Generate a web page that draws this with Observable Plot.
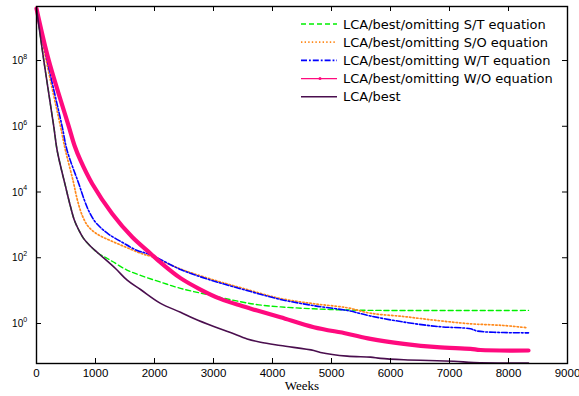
<!DOCTYPE html>
<html>
<head>
<meta charset="utf-8">
<script src="https://cdn.jsdelivr.net/npm/d3@7"></script>
<script src="https://cdn.jsdelivr.net/npm/@observablehq/plot@0.6"></script>
<style>
  body { margin: 0; background: #fff; }
  #wrap { position: relative; width: 579px; height: 396px; }
  #wrap > svg { position: absolute; left: 0; top: 0; }
</style>
</head>
<body>
<div id="wrap"></div>
<script>
// ---- data ----
const seriesNames = [
  "LCA/best/omitting S/T equation",
  "LCA/best/omitting S/O equation",
  "LCA/best/omitting W/T equation",
  "LCA/best/omitting W/O equation",
  "LCA/best"
];
const seriesColors = ["#00f000", "#ff8a1c", "#0000ff", "#ff0a7e", "#4a0e4e"];
const seriesDash   = ["5,3", "1.4,2.2", "6,2,1.8,2", null, null];
const seriesWidth  = [1.4, 1.7, 1.6, 4.2, 1.6];

const weeksST  = [0, 124, 293, 351, 492, 576, 644, 712, 797, 915, 1051, 1170, 1288, 1525, 1763, 2102, 2441, 2893, 3458, 3769, 4136, 4700, 5266, 5830, 8339];
const valuesST = [3.8e9, 1e8, 9.8e5, 1.8e5, 1.48e4, 3630, 1350, 724, 389, 224, 135, 102, 77, 43, 29, 18.2, 11.7, 7.6, 4.6, 3.7, 3.2, 2.8, 2.57, 2.5, 2.5];

const weeksSO  = [0, 165, 407, 492, 619, 695, 775, 864, 966, 1085, 1254, 1452, 1791, 1932, 2441, 2949, 3508, 4136, 4695, 5271, 5661, 6220, 6797, 7356, 7915, 8322];
const valuesSO = [3.8e9, 1e8, 9.8e5, 1.8e5, 2.24e4, 5500, 1940, 955, 630, 457, 333, 234, 132, 112, 45.5, 22.6, 11.6, 5.75, 4.0, 3.0, 2.05, 1.63, 1.23, 0.98, 0.87, 0.74];

const weeksWT  = [0, 181, 435, 520, 717, 814, 890, 983, 1085, 1220, 1452, 1707, 1932, 2441, 2949, 3508, 4136, 4695, 5271, 5661, 6220, 6797, 7356, 7469, 7915, 8339];
const valuesWT = [3.8e9, 1e8, 9.8e5, 1.8e5, 1.78e4, 5500, 2570, 1320, 832, 525, 295, 166, 124, 44, 21, 10.8, 5.4, 3.5, 2.48, 1.69, 1.11, 0.81, 0.69, 0.59, 0.53, 0.52];

const weeksWO  = [0, 209, 548, 644, 746, 944, 1283, 1622, 1932, 2102, 2441, 2780, 3119, 3458, 3741, 4136, 4700, 5266, 5661, 6226, 6791, 7356, 7525, 8339];
const valuesWO = [3.8e9, 1e8, 9.8e5, 2.6e5, 9.1e4, 1.78e4, 2190, 427, 135, 72, 24, 10.8, 5.6, 3.5, 2.48, 1.55, 0.77, 0.49, 0.34, 0.24, 0.19, 0.17, 0.156, 0.151];

const weeksBest  = [0, 124, 293, 351, 492, 576, 644, 712, 797, 915, 1051, 1339, 1542, 1763, 2102, 2441, 2667, 3005, 3288, 3571, 3797, 4136, 4700, 4813, 5266, 5661, 5830, 6226, 7074, 7413, 8339];
const valuesBest = [3.8e9, 1e8, 9.8e5, 1.8e5, 1.48e4, 3630, 1350, 724, 389, 224, 135, 47, 20.4, 10.8, 4.1, 2.2, 1.42, 0.81, 0.53, 0.34, 0.27, 0.214, 0.151, 0.132, 0.102, 0.095, 0.087, 0.079, 0.071, 0.065, 0.063];

const xTicks = [0, 1000, 2000, 3000, 4000, 5000, 6000, 7000, 8000, 9000];
const yTicks = [1, 1e2, 1e4, 1e6, 1e8];
const yTickBase = "10";
const yTickExponents = ["0", "2", "4", "6", "8"];
const xLabel = "Weeks";
const yDomain = [0.0607, 4.4e9];
const xDomain = [0, 9000];

// ---- build table ----
const weekArrays = [weeksST, weeksSO, weeksWT, weeksWO, weeksBest];
const valueArrays = [valuesST, valuesSO, valuesWT, valuesWO, valuesBest];
const table = [];
weekArrays.forEach((ws, s) => ws.forEach((w, i) => table.push({series: seriesNames[s], week: w, value: valueArrays[s][i]})));

// ---- layout ----
const W = 579, H = 396;
const mL = 36, mR = 12, mT = 6, mB = 33;
const fw = W - mL - mR, fh = H - mT - mB;
const tickLen = 5;
const sans = "'Liberation Sans', Arial, sans-serif";

const lineMarks = seriesNames.map((name, s) =>
  Plot.line(table.filter(d => d.series === name), {
    x: "week", y: "value",
    stroke: seriesColors[s],
    strokeWidth: seriesWidth[s],
    strokeDasharray: seriesDash[s] ?? undefined,
    curve: "catmull-rom"
  })
);

const chart = Plot.plot({
  width: W, height: H,
  marginLeft: mL, marginRight: mR, marginTop: mT, marginBottom: mB,
  style: {fontFamily: sans, fontSize: "11.5px", color: "#000", background: "#fff", overflow: "visible"},
  x: {domain: xDomain},
  y: {type: "log", domain: yDomain, axis: null},
  marks: [
    ...lineMarks,
    Plot.tickX(xTicks, {x: d => d, insetTop: fh - tickLen, stroke: "#000", strokeWidth: 1}),
    Plot.tickX(xTicks, {x: d => d, insetBottom: fh - tickLen, stroke: "#000", strokeWidth: 1}),
    Plot.tickY(yTicks, {y: d => d, insetRight: fw - tickLen, stroke: "#000", strokeWidth: 1}),
    Plot.tickY(yTicks, {y: d => d, insetLeft: fw - tickLen, stroke: "#000", strokeWidth: 1}),
    Plot.frame({stroke: "#000", strokeWidth: 1.4}),
    Plot.axisX(xTicks, {tickSize: 0, tickPadding: 5, tickFormat: d => String(d), label: null, fontSize: 11.5}),
    Plot.text(yTicks, {y: d => d, text: () => yTickBase, frameAnchor: "left", textAnchor: "end", dx: -13.3, dy: 0.5, fontSize: 10}),
    Plot.text(yTicks, {y: d => d, text: (d, i) => yTickExponents[i], frameAnchor: "left", textAnchor: "start", dx: -13.2, dy: -3.8, fontSize: 7}),
    Plot.text([xLabel], {text: d => d, frameAnchor: "bottom", dy: 26.5, fontFamily: "'Liberation Serif', 'Times New Roman', serif", fontSize: 13})
  ]
});
document.getElementById("wrap").appendChild(chart);

// ---- legend (inside the axes, top right) ----
const leg = d3.select("#wrap").append("svg")
  .attr("width", W).attr("height", H)
  .style("pointer-events", "none");
const lx0 = 301, lx1 = 337, tx = 343, ly0 = 24, lstep = 18.2;
seriesNames.forEach((name, s) => {
  const y = ly0 + s * lstep;
  const isWO = s === 3;
  leg.append("line")
    .attr("x1", lx0).attr("x2", lx1).attr("y1", y).attr("y2", y)
    .attr("stroke", seriesColors[s])
    .attr("stroke-width", isWO ? 1.1 : Math.min(seriesWidth[s], 1.7))
    .attr("stroke-dasharray", seriesDash[s]);
  if (isWO) {
    leg.append("circle").attr("cx", (lx0 + lx1) / 2 + 1).attr("cy", y).attr("r", 1.5).attr("fill", seriesColors[s]);
  }
  leg.append("text")
    .attr("x", tx).attr("y", y + 4.6)
    .attr("font-family", "'DejaVu Sans', sans-serif")
    .attr("font-size", 13)
    .attr("fill", "#000")
    .text(name);
});
</script>
</body>
</html>
